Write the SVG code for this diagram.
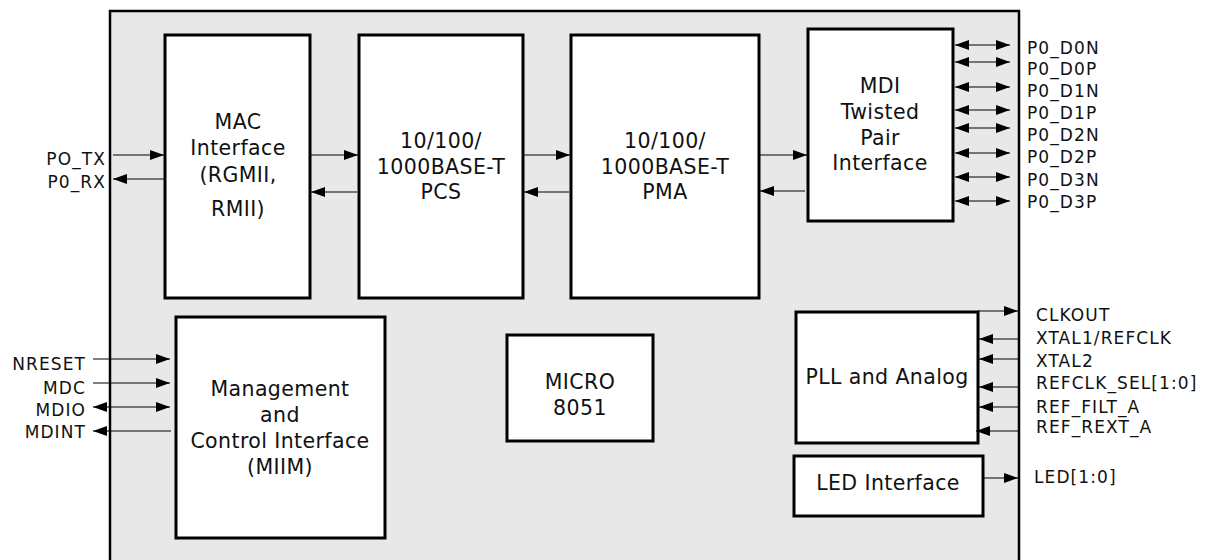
<svg xmlns="http://www.w3.org/2000/svg" width="1210" height="560" viewBox="0 0 1210 560">
<defs>
<marker id="ah" viewBox="0 0 14 10" refX="14" refY="5" markerWidth="14" markerHeight="10" markerUnits="userSpaceOnUse" orient="auto-start-reverse">
<path d="M0,0 L14,5 L0,10 z" fill="#000"/>
</marker>
<style>
.blk{fill:#fff;stroke:#000;stroke-width:3}
.big{font-family:"DejaVu Sans",Verdana,sans-serif;font-size:20.5px;letter-spacing:0.4px;text-anchor:middle;fill:#111}
.sm{font-family:"DejaVu Sans",Verdana,sans-serif;font-size:17px;letter-spacing:1.1px;fill:#111}
.r{text-anchor:end}
.c line{stroke:#000;stroke-width:1.2;marker-end:url(#ah)}
.c line.bi{marker-start:url(#ah)}
</style>
</defs>
<rect id="chip" x="110" y="11" width="909" height="560" fill="#e8e8e8" stroke="#000" stroke-width="2.5"/>
<g id="mac"><rect class="blk" x="165" y="35" width="145" height="263"/>
<text class="big"><tspan x="238" y="129">MAC</tspan><tspan x="238" y="155">Interface</tspan><tspan x="238" y="182">(RGMII,</tspan><tspan x="238" y="216">RMII)</tspan></text></g>
<g id="pcs"><rect class="blk" x="359" y="35" width="164" height="263"/>
<text class="big"><tspan x="441" y="148">10/100/</tspan><tspan x="441" y="174">1000BASE-T</tspan><tspan x="441" y="199">PCS</tspan></text></g>
<g id="pma"><rect class="blk" x="571" y="35" width="188" height="263"/>
<text class="big"><tspan x="665" y="148">10/100/</tspan><tspan x="665" y="174">1000BASE-T</tspan><tspan x="665" y="199">PMA</tspan></text></g>
<g id="mdi"><rect class="blk" x="808" y="29" width="145" height="192"/>
<text class="big"><tspan x="880" y="93">MDI</tspan><tspan x="880" y="119">Twisted</tspan><tspan x="880" y="145">Pair</tspan><tspan x="880" y="170">Interface</tspan></text></g>
<g id="mgmt"><rect class="blk" x="176" y="317" width="209" height="221"/>
<text class="big"><tspan x="280" y="396">Management</tspan><tspan x="280" y="422">and</tspan><tspan x="280" y="448">Control Interface</tspan><tspan x="280" y="474">(MIIM)</tspan></text></g>
<g id="micro"><rect class="blk" x="507" y="335" width="146" height="106"/>
<text class="big"><tspan x="580" y="389">MICRO</tspan><tspan x="580" y="415">8051</tspan></text></g>
<g id="pll"><rect class="blk" x="796" y="312" width="182" height="131"/>
<text class="big" x="887" y="384">PLL and Analog</text></g>
<g id="led"><rect class="blk" x="794" y="456" width="189" height="60"/>
<text class="big" x="888" y="490">LED Interface</text></g>
<g id="connectors" class="c">
<line x1="113" y1="155" x2="164" y2="155"/>
<line x1="165" y1="179" x2="113" y2="179"/>
<line x1="311" y1="155" x2="358" y2="155"/>
<line x1="357" y1="192" x2="311" y2="192"/>
<line x1="524" y1="155" x2="570" y2="155"/>
<line x1="569" y1="192" x2="524" y2="192"/>
<line x1="760" y1="155" x2="807" y2="155"/>
<line x1="805" y1="191" x2="760" y2="191"/>
<line class="bi" x1="955" y1="45" x2="1010" y2="45"/>
<line class="bi" x1="955" y1="62" x2="1010" y2="62"/>
<line class="bi" x1="955" y1="87" x2="1010" y2="87"/>
<line class="bi" x1="955" y1="110" x2="1010" y2="110"/>
<line class="bi" x1="955" y1="128" x2="1010" y2="128"/>
<line class="bi" x1="955" y1="153" x2="1010" y2="153"/>
<line class="bi" x1="955" y1="177" x2="1010" y2="177"/>
<line class="bi" x1="955" y1="201" x2="1010" y2="201"/>
<line x1="93" y1="359" x2="170" y2="359"/>
<line x1="93" y1="383" x2="170" y2="383"/>
<line class="bi" x1="93" y1="407" x2="170" y2="407"/>
<line x1="171" y1="431" x2="93" y2="431"/>
<line x1="978" y1="311" x2="1018" y2="311"/>
<line x1="1018" y1="339" x2="979" y2="339"/>
<line x1="1018" y1="359" x2="979" y2="359"/>
<line x1="1018" y1="387" x2="979" y2="387"/>
<line x1="1018" y1="407" x2="979" y2="407"/>
<line x1="1018" y1="431" x2="976" y2="431"/>
<line x1="983" y1="478" x2="1018" y2="478"/>
</g>
<g id="labels" class="sm">
<text class="r" x="106" y="165">PO_TX</text>
<text class="r" x="106" y="188">P0_RX</text>
<text x="1027" y="54">P0_D0N</text>
<text x="1027" y="75">P0_D0P</text>
<text x="1027" y="97">P0_D1N</text>
<text x="1027" y="119">P0_D1P</text>
<text x="1027" y="141">P0_D2N</text>
<text x="1027" y="163">P0_D2P</text>
<text x="1027" y="186">P0_D3N</text>
<text x="1027" y="208">P0_D3P</text>
<text class="r" x="86" y="370">NRESET</text>
<text class="r" x="86" y="394">MDC</text>
<text class="r" x="86" y="416">MDIO</text>
<text class="r" x="86" y="438">MDINT</text>
<text x="1036" y="321">CLKOUT</text>
<text x="1036" y="344">XTAL1/REFCLK</text>
<text x="1036" y="367">XTAL2</text>
<text x="1036" y="389">REFCLK_SEL[1:0]</text>
<text x="1036" y="413">REF_FILT_A</text>
<text x="1036" y="433">REF_REXT_A</text>
<text x="1034" y="483">LED[1:0]</text>
</g>
</svg>
